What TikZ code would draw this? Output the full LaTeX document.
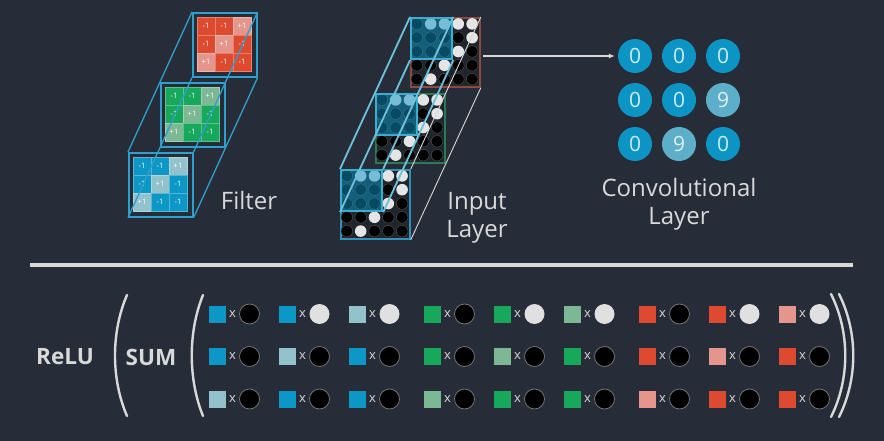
\documentclass[tikz,border=0pt]{standalone}
\usepackage{fontspec}
\setmainfont{Open Sans}
\usepackage{tikz}
\usetikzlibrary{arrows.meta,calc,positioning}
\definecolor{bg}{HTML}{262D38}
\definecolor{ink}{HTML}{D9D9D9}
\definecolor{kblue}{HTML}{0D97C6}
\definecolor{kbluelt}{HTML}{92C2CB}
\definecolor{kgreen}{HTML}{17A85B}
\definecolor{kgreenlt}{HTML}{7DB894}
\definecolor{kred}{HTML}{DD4A2F}
\definecolor{kredlt}{HTML}{E5968C}
\definecolor{rim}{HTML}{2F9FCB}
\definecolor{well}{HTML}{1F252C}
\definecolor{rimred}{HTML}{8A4B42}
\definecolor{rimgreen}{HTML}{2D7A57}
\definecolor{rimblue}{HTML}{3191B8}
\definecolor{convdk}{HTML}{0C95C4}
\definecolor{convlt}{HTML}{5DAFC9}

\begin{document}
\begin{tikzpicture}[x=1pt,y=-1pt,
    fframe/.style={draw=rim,line width=1.6,minimum size=64,inner sep=0,anchor=north west},
    fcell/.style={minimum size=18,inner sep=0,draw=white!30!#1,line width=0.5,fill=#1,
                  text=white!85,font=\fontsize{7.5}{7.5}\selectfont},
    blk/.style={minimum size=69,inner sep=0,fill=well,line width=1.8,anchor=north west},
    ov/.style={minimum size=41.4,inner sep=0,fill=kblue,fill opacity=0.5,
               draw=kblue!80!white,line width=1.8,anchor=north west},
    dot0/.style={circle,minimum size=11.6,inner sep=0,fill=black,draw=black!70!white,line width=0.5},
    dot1/.style={circle,minimum size=11.6,inner sep=0,fill=white!90!black},
    edge/.style={rim,line width=1.3},
    wedge/.style={ink,line width=1.8,draw=kblue!60!white},
    thinedge/.style={ink,line width=0.9},
    conv0/.style={circle,minimum size=34,inner sep=0,fill=convdk,text=white!80!convdk,
                  font=\fontsize{21}{21}\selectfont},
    conv9/.style={conv0,fill=convlt,text=white!80!convlt},
    lbl/.style={text=ink,inner sep=0,font=\fontsize{24}{28}\selectfont,align=center},
    sq/.style={minimum size=17,inner sep=0},
    times/.style={text=ink,inner sep=0,font=\fontsize{13}{13}\selectfont},
    ball0/.style={circle,minimum size=20,inner sep=0,fill=black,draw=black!55!white,line width=0.8},
    ball1/.style={circle,minimum size=20,inner sep=0,fill=white!88!black},
    paren/.style={ink,line width=2.4,line cap=round}
  ]
    \useasboundingbox (0,0) rectangle (884,441);
    \fill[bg] (0,0) rectangle (884,441);

    % filter stack
    \foreach \nm/\dk/\lt/\px/\py in {red/kred/kredlt/192/12,green/kgreen/kgreenlt/160/82,blue/kblue/kbluelt/128/152}{
      \node[fframe] (fr-\nm) at (\px,\py) {};
      \foreach \r in {0,1,2}
        \foreach \c in {0,1,2}{
          \pgfmathtruncatemacro\s{\r+\c}
          \ifnum\s=2
            \node[fcell=\lt] (f-\nm-\r\c) at ($(fr-\nm.north west)+(14+18*\c,14+18*\r)$) {+1};
          \else
            \node[fcell=\dk] (f-\nm-\r\c) at ($(fr-\nm.north west)+(14+18*\c,14+18*\r)$) {-1};
          \fi
        }
    }
    \foreach \a in {north west,north east,south east,south west}
      \draw[edge] (fr-red.\a) -- (fr-blue.\a);
    \node[lbl,anchor=base] (filter) at (249,210) {Filter};

    % input layer
    \foreach \nm/\rc/\px/\py in {top/rimred/410/17,mid/rimgreen/375/93,bot/rimblue/340/169}{
      \node[blk,draw=\rc] (in-\nm) at (\px,\py) {};
      \foreach \row [count=\r from 0] in {{0,1,1,1,1},{0,0,0,0,1},{0,0,0,1,0},{0,0,1,0,0},{0,1,0,0,0}}
        \foreach \v [count=\c from 0] in \row
          \node[dot\v] (d-\nm-\r\c) at ($(in-\nm.north west)+(6.9+13.8*\c,6.9+13.8*\r)$) {};
      \node[ov] (ov-\nm) at (\px,\py) {};
    }
    \foreach \a in {north west,north east,south east,south west}
      \draw[wedge] (ov-top.\a) -- (ov-bot.\a);
    \foreach \a in {north east,south east}
      \draw[thinedge] (in-top.\a) -- (in-bot.\a);
    \node[lbl] (input) at (477,218) {Input\\Layer};

    % convolutional layer
    \foreach \r/\c/\v in {1/1/0,1/2/0,1/3/0,2/1/0,2/2/0,2/3/9,3/1/0,3/2/9,3/3/0}
      \node[conv\v] (c\r\c) at (591+44*\c,12+44*\r) {\v};
    \node[lbl] (convl) at (679,204) {Convolutional\\Layer};
    \draw[-{Latex[length=6,width=5]},ink,line width=1.3,shorten <=2,shorten >=3]
      (in-top.east |- c11) -- (c11.west);

    % sum row
    \draw[ink,line width=3.5] (30,265) -- (853,265);
    \node[lbl,font=\fontsize{22.5}{22.5}\selectfont\bfseries] (relu) at (65,357) {ReLU};
    \node[lbl,font=\fontsize{22.5}{22.5}\selectfont\bfseries] (sum) at (151,357) {SUM};
    \draw[paren] (127,295) .. controls (111,332) and (111,379) .. (127,416);
    \draw[paren] (203,295) .. controls (188,332) and (188,379) .. (203,416);
    \draw[paren] (831,294) .. controls (850,332) and (850,379) .. (831,417);
    \draw[paren] (839,294) .. controls (858,332) and (858,379) .. (839,417);
    \foreach \k/\dk/\lt in {0/kblue/kbluelt,1/kgreen/kgreenlt,2/kred/kredlt}
      \foreach \r in {0,1,2}
        \foreach \c in {0,1,2}{
          \pgfmathsetmacro\bx{217+215*\k+70*\c}
          \pgfmathsetmacro\by{314+42.5*\r}
          \pgfmathtruncatemacro\s{\r+\c}
          \pgfmathtruncatemacro\w{and(\r==0,\c>0)}
          \ifnum\s=2 \def\sqc{\lt}\else\def\sqc{\dk}\fi
          \node[sq,fill=\sqc] (s\k\r\c) at (\bx,\by) {};
          \node[times] (x\k\r\c) at (\bx+15.5,\by) {x};
          \node[ball\w] (b\k\r\c) at (\bx+32.5,\by) {};
        }
  \end{tikzpicture}
\end{document}
